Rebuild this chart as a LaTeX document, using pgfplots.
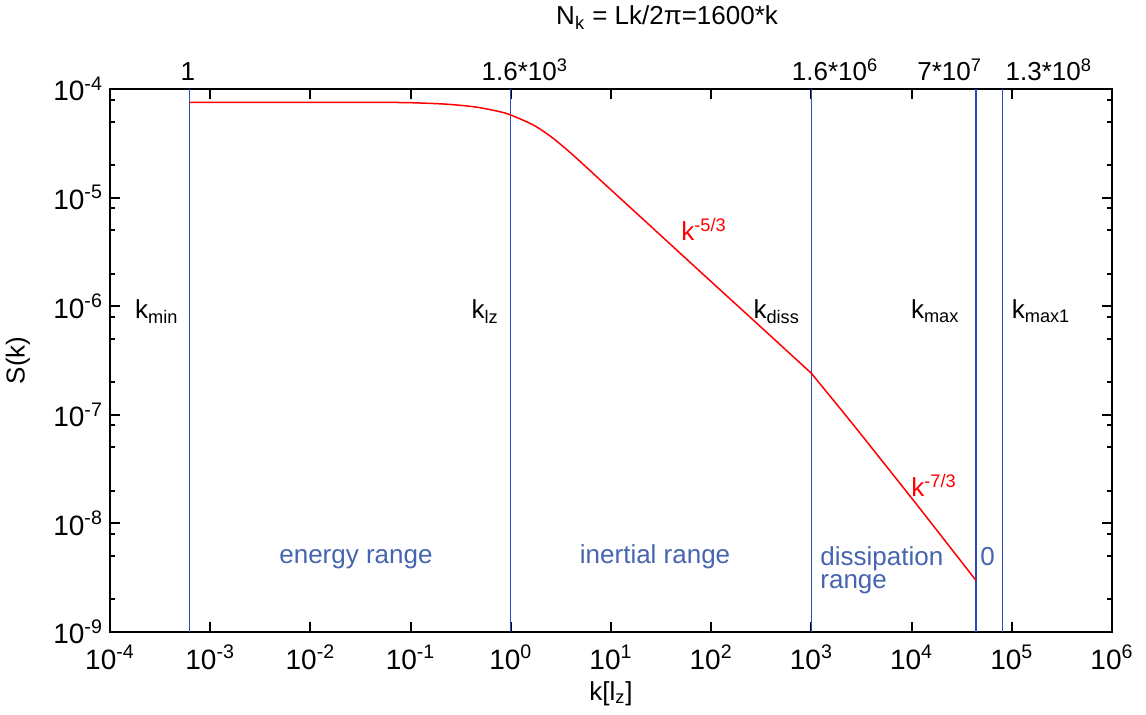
\documentclass[border=0pt]{standalone}
\usepackage{pgfplots}
\pgfplotsset{compat=1.18}
\usepackage{fontspec}
\setmainfont{Liberation Sans}
\definecolor{lblue}{RGB}{45,75,190}
\definecolor{tblue}{RGB}{70,100,175}
\pgfplotstableread{
k S
6.25e-4 7.55e-5
0.01 7.55e-5
0.05 7.53e-5
0.1 7.48e-5
0.2 7.3e-5
0.3 7.1e-5
0.47 6.78e-5
0.776 6.18e-5
1 5.76e-5
1.67 4.67e-5
2.48 3.68e-5
3.6 2.78e-5
5.27 2.03e-5
7.73 1.465e-5
16.6 7.68e-6
35.8 4.01e-6
76.9 2.10e-6
165.6 1.10e-6
356 5.77e-7
1000 2.41e-7
}\spectrumA
\pgfplotstableread{
k S
1000 2.41e-7
2500 8.55e-8
5200 3.66e-8
11200 1.5e-8
24000 6.1e-9
43750 3.0e-9
}\spectrumB
\begin{document}
\begin{tikzpicture}[font=\fontsize{13}{15}\selectfont]
\useasboundingbox (-55pt,-41.5pt) rectangle (518pt,316pt);
\begin{axis}[
 scale only axis, width=501pt, height=271.5pt,
 xmode=log, ymode=log,
 xmin=1e-4, xmax=1e6, ymin=1e-9, ymax=1e-4,
 axis line style={line width=1pt},
 tick style={line width=1pt, black},
 major tick length=5pt, minor tick length=2.5pt,
 xtick={1e-4,1e-3,1e-2,1e-1,1,1e1,1e2,1e3,1e4,1e5,1e6},
 xticklabels={10\textsuperscript{-4},10\textsuperscript{-3},10\textsuperscript{-2},10\textsuperscript{-1},10\textsuperscript{0},10\textsuperscript{1},10\textsuperscript{2},10\textsuperscript{3},10\textsuperscript{4},10\textsuperscript{5},10\textsuperscript{6}},
 ytick={1e-9,1e-8,1e-7,1e-6,1e-5,1e-4},
 yticklabels={10\textsuperscript{-9},10\textsuperscript{-8},10\textsuperscript{-7},10\textsuperscript{-6},10\textsuperscript{-5},10\textsuperscript{-4}},
 xminorticks=false,
 minor ytick={2e-9,5e-9,8e-9,2e-8,5e-8,8e-8,2e-7,5e-7,8e-7,2e-6,5e-6,8e-6,2e-5,5e-5,8e-5},
 xtick pos=both, ytick pos=both,
 xticklabel pos=lower, yticklabel pos=left,
 tick label style={font=\fontsize{14}{16}\selectfont},
 xticklabel style={yshift=-3pt},
 xlabel={k[l\textsubscript{z}]},
 ylabel={S(k)},
 xlabel style={at={(axis description cs:0.5,0)}, anchor=base, yshift=-34pt},
 ylabel style={at={([xshift=-46pt]axis description cs:0,0.5)}, anchor=center},
 clip=false,
]
\addplot[lblue, line width=0.7pt] coordinates {(6.25e-4,1e-9) (6.25e-4,1e-4)};
\addplot[lblue, line width=0.7pt] coordinates {(1,1e-9) (1,1e-4)};
\addplot[lblue, line width=0.7pt] coordinates {(1000,1e-9) (1000,1e-4)};
\addplot[lblue, line width=0.7pt] coordinates {(43750,1e-9) (43750,1e-4)};
\addplot[lblue, line width=0.7pt] coordinates {(81250,1e-9) (81250,1e-4)};
\addplot[red, line width=0.75pt, smooth, tension=0.5] table[x=k, y=S] {\spectrumA};
\addplot[red, line width=0.75pt, smooth, tension=0.4] table[x=k, y=S] {\spectrumB};

% top labels
\node[anchor=base, yshift=32pt] at (axis description cs:0.556,1) {N\textsubscript{k} = Lk/2π=1600*k};
\node[anchor=base, yshift=4.5pt] at (axis description cs:0.0778,1) {1};
\node[anchor=base, yshift=4.5pt] at (axis description cs:0.414,1) {1.6*10\textsuperscript{3}};
\node[anchor=base, yshift=4.5pt] at (axis description cs:0.7236,1) {1.6*10\textsuperscript{6}};
\node[anchor=base, yshift=4.5pt] at (axis description cs:0.838,1) {7*10\textsuperscript{7}};
\node[anchor=base, yshift=4.5pt] at (axis description cs:0.937,1) {1.3*10\textsuperscript{8}};
% k labels
\node[anchor=base west] at (axis description cs:0.018,0.577) {k\textsubscript{min}};
\node[anchor=base east] at (axis description cs:0.395,0.577) {k\textsubscript{lz}};
\node[anchor=base east] at (axis description cs:0.6956,0.577) {k\textsubscript{diss}};
\node[anchor=base west] at (axis description cs:0.7924,0.577) {k\textsubscript{max}};
\node[anchor=base west] at (axis description cs:0.893,0.577) {k\textsubscript{max1}};
% slopes
\node[anchor=base west, text=red, inner sep=0pt] at (axis description cs:0.5699,0.7219) {k\textsuperscript{-5/3}};
\node[anchor=base west, text=red, inner sep=0pt] at (axis description cs:0.7994,0.2492) {k\textsuperscript{-7/3}};
% ranges
\node[anchor=base, text=tblue] at (axis description cs:0.2455,0.127) {energy range};
\node[anchor=base, text=tblue] at (axis description cs:0.544,0.127) {inertial range};
\node[anchor=base west, text=tblue, inner sep=0pt] at (axis description cs:0.7086,0.123) {dissipation};
\node[anchor=base west, text=tblue, inner sep=0pt] at (axis description cs:0.7086,0.0795) {range};
\node[anchor=base west, text=tblue, inner sep=0pt] at (axis description cs:0.8683,0.123) {0};
\end{axis}
\end{tikzpicture}
\end{document}
